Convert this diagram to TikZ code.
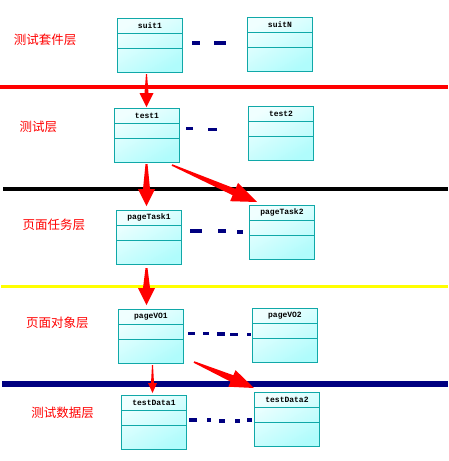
\documentclass[tikz,border=0pt]{standalone}
\usepackage{fontspec}
\newfontfamily\cjk{Noto Sans CJK SC}
\newfontfamily\boxfont{Liberation Mono}
\usetikzlibrary{calc}
\definecolor{boxline}{HTML}{10A8A8}
\definecolor{boxlight}{HTML}{F0FFFF}
\definecolor{boxdark}{HTML}{B0FCFC}
\definecolor{navyc}{HTML}{000080}
\definecolor{arrowred}{HTML}{FF0000}
\definecolor{yellowc}{HTML}{FFFF00}
\tikzset{
  umlbox/.style={draw=boxline, line width=1pt, minimum width=65pt, minimum height=54pt,
    inner sep=0pt, anchor=north west, top color=boxlight, bottom color=boxdark, shading angle=30},
  boxtitle/.style={font=\boxfont\bfseries\fontsize{8}{9}\selectfont, inner sep=0pt},
  layertext/.style={font=\cjk\fontsize{12.5}{13}\selectfont, text=arrowred, inner sep=0pt},
}
\newcommand\umlb[4]{% name, x, y, title
  \node[umlbox] (#1) at (#2,#3) {};
  \draw[boxline, line width=1pt] ($(#1.north west)+(0,15)$) -- ($(#1.north east)+(0,15)$);
  \draw[boxline, line width=1pt] ($(#1.north west)+(0,30)$) -- ($(#1.north east)+(0,30)$);
  \node[boxtitle] (#1t) at ($(#1.north)+(0,7.5)$) {#4};
}
\newcommand\taper[6]{% start, end, tail half, shaft half, head half, head length
  \coordinate (tpH) at ($(#2)!#6!(#1)$);
  \fill[arrowred] ($(#1)!#3!90:(#2)$) -- ($(tpH)!#4!90:(#2)$) -- ($(tpH)!#5!90:(#2)$) -- (#2)
    -- ($(tpH)!#5!-90:(#2)$) -- ($(tpH)!#4!-90:(#2)$) -- ($(#1)!#3!-90:(#2)$) -- cycle;
}
\begin{document}
\begin{tikzpicture}[x=1pt, y=-1pt]
\useasboundingbox[fill=white] (0,0) rectangle (448,461);

% layer lines
\draw[arrowred, line width=3.5pt] (0,87) -- (448,87);
\draw[black, line width=3.5pt] (3,189) -- (448,189);
\draw[yellowc, line width=3pt] (1,286.5) -- (448,286.5);
\draw[navyc, line width=6pt] (2,384) -- (448,384);

% layer labels
\node[layertext] (l1) at (45,40) {测试套件层};
\node[layertext] (l2) at (38.5,127) {测试层};
\node[layertext] (l3) at (54,225) {页面任务层};
\node[layertext] (l4) at (57.5,323) {页面对象层};
\node[layertext] (l5) at (62.5,413) {测试数据层};

% boxes
\umlb{suit1}{117}{18}{suit1}
\umlb{suitN}{247}{17}{suitN}
\umlb{test1}{114}{108}{test1}
\umlb{test2}{248}{106}{test2}
\umlb{pageTask1}{116}{210}{pageTask1}
\umlb{pageTask2}{249}{205}{pageTask2}
\umlb{pageVO1}{118}{309}{pageVO1}
\umlb{pageVO2}{252}{308}{pageVO2}
\umlb{testData1}{121}{395}{testData1}
\umlb{testData2}{254}{392}{testData2}

% ellipsis dashes
\draw[navyc, line width=4.5pt] (192,43) -- (200,43) (214,43) -- (226,43);
\draw[navyc, line width=3pt] (186,128) -- (193,128) (208,129.5) -- (217,129.5);
\draw[navyc, line width=3.5pt] (190,231) -- (202,231) (218,231) -- (226,231) (237,232) -- (243,232);
\draw[navyc, line width=3.5pt] (188,333.5) -- (195,333.5) (203,333.5) -- (209,333.5)
  (217,334) -- (225,334) (230,334.5) -- (238,334.5) (247,334.5) -- (251,334.5);
\draw[navyc, line width=3.5pt] (189,420) -- (197,420) (207,420) -- (211,420)
  (219,421) -- (225,421) (235,421) -- (240,421) (247,420) -- (252,420);

% arrows
\coordinate (a1s) at ($(suit1.south)+(-3.5,1)$);
\coordinate (a1e) at ($(test1.north)+(-0.5,-1)$);
\taper{a1s}{a1e}{0.5pt}{2pt}{7pt}{14pt}
\coordinate (a2s) at ($(test1.south)+(-0.5,1)$);
\coordinate (a2e) at ($(pageTask1.north)+(-2.5,-4)$);
\taper{a2s}{a2e}{1pt}{3.5pt}{8.5pt}{17pt}
\coordinate (a3s) at ($(test1.south east)+(-8,2)$);
\coordinate (a3e) at ($(pageTask2.north west)+(8,-3)$);
\taper{a3s}{a3e}{0.8pt}{3.5pt}{10pt}{25pt}
\coordinate (a4s) at ($(pageTask1.south)+(-2.5,3)$);
\coordinate (a4e) at ($(pageVO1.north)+(-4.5,-4)$);
\taper{a4s}{a4e}{1pt}{3.5pt}{8.5pt}{17pt}
\coordinate (a5s) at ($(pageVO1.south east)+(10,-2)$);
\coordinate (a5e) at ($(testData2.north west)+(0,-4)$);
\taper{a5s}{a5e}{0.8pt}{3.5pt}{9pt}{24pt}
\coordinate (a6s) at ($(pageVO1.south)+(1.5,1)$);
\coordinate (a6e) at ($(testData1.north)+(-1.5,-2)$);
\taper{a6s}{a6e}{0.5pt}{1.5pt}{4.5pt}{10pt}
\end{tikzpicture}
\end{document}
